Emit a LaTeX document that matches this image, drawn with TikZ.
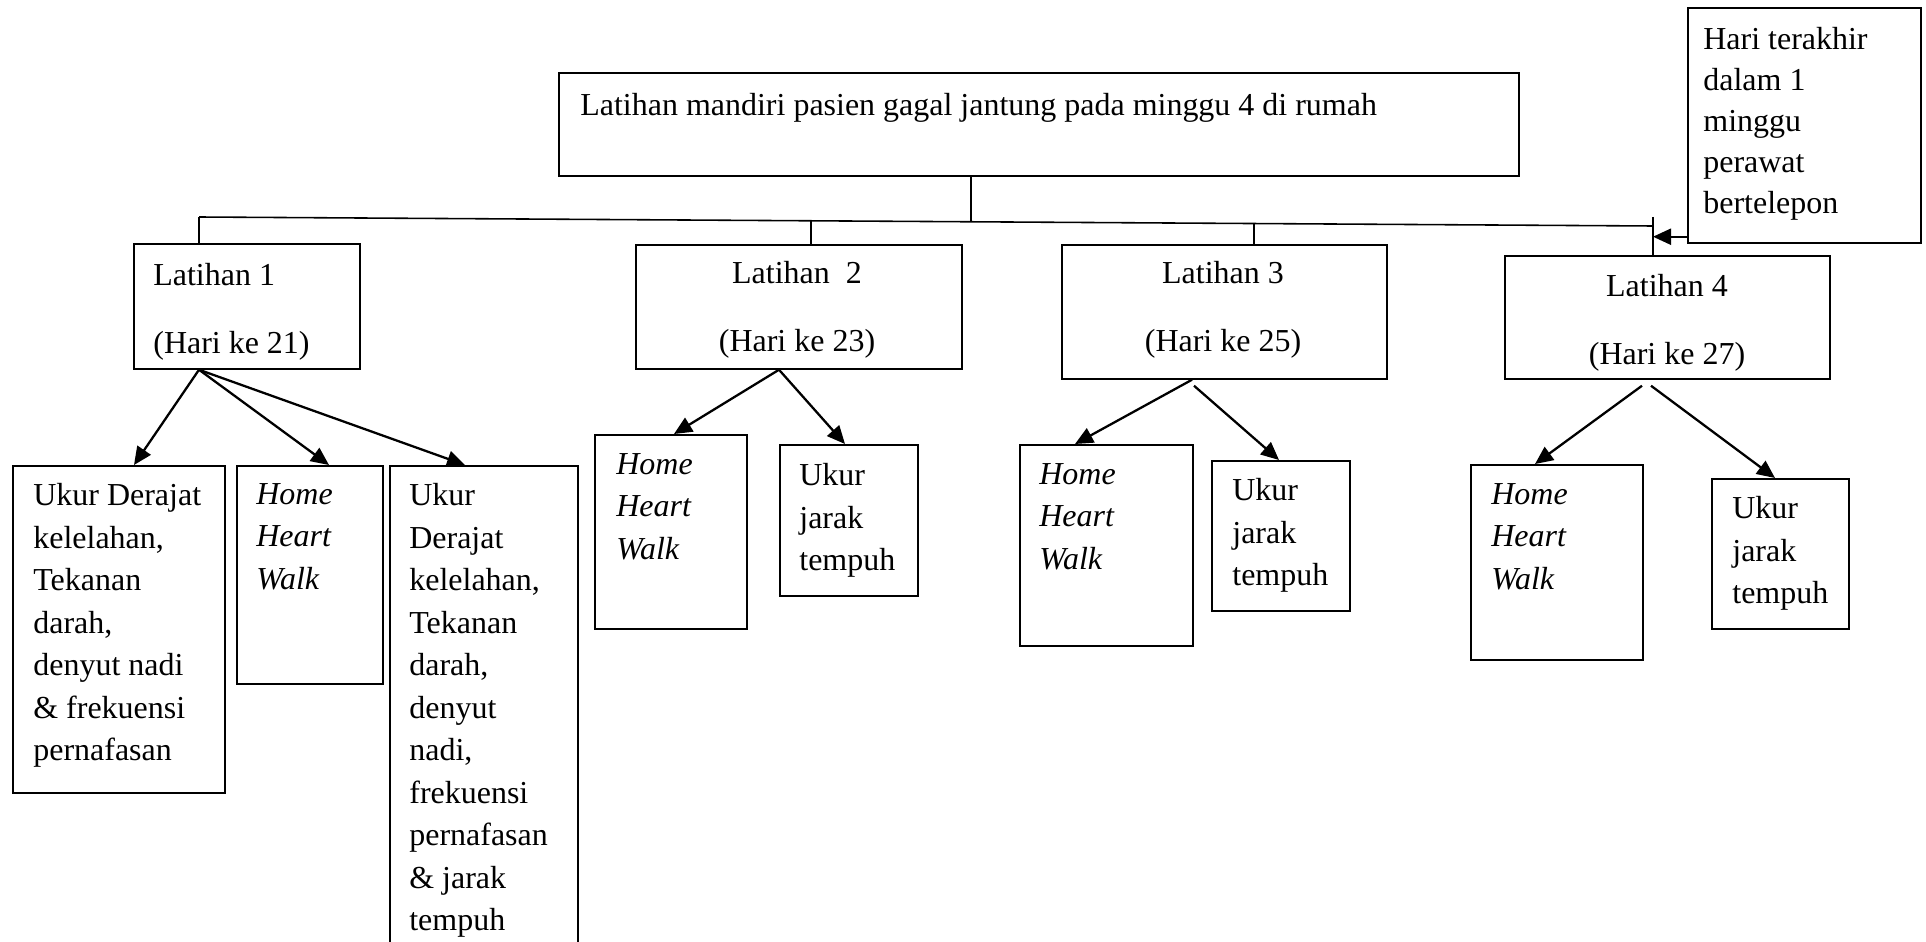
\documentclass[tikz,border=0pt]{standalone}
\usepackage{fontspec}
\setmainfont{Liberation Serif}
\usetikzlibrary{calc, arrows.meta}

\begin{document}
\begin{tikzpicture}[
  x=0.02cm, y=-0.02cm,
  every node/.style={font=\fontsize{18.2}{24.2}\selectfont},
  blk/.style={draw, line width=1pt, anchor=north west, inner sep=0pt},
  txt/.style={anchor=north west, align=left, inner sep=0pt},
  itx/.style={txt, font=\fontsize{18.2}{24.2}\selectfont\itshape},
  ctr/.style={anchor=north, align=center, inner sep=0pt},
  link/.style={line width=0.9pt},
  arr/.style={line width=1.3pt, -{Triangle[length=0.36cm, width=0.32cm]}}
]
\useasboundingbox (0,0) rectangle (1926,942);
\clip (0,0) rectangle (1926,942);

\node[blk, minimum width=19.2cm, minimum height=2.06cm] (top) at (558,72) {};
\node[blk, minimum width=4.66cm, minimum height=4.7cm] (note) at (1687,7) {};
\node[blk, minimum width=4.52cm, minimum height=2.5cm] (l1) at (133,243) {};
\node[blk, minimum width=6.52cm, minimum height=2.48cm] (l2) at (635,244) {};
\node[blk, minimum width=6.5cm, minimum height=2.68cm] (l3) at (1061,244) {};
\node[blk, minimum width=6.5cm, minimum height=2.46cm] (l4) at (1504,255) {};
\node[blk, minimum width=4.24cm, minimum height=6.54cm] (b1a) at (12,465) {};
\node[blk, minimum width=2.92cm, minimum height=4.36cm] (b1b) at (236,465) {};
\node[blk, minimum width=3.76cm, minimum height=9.9cm] (b1c) at (389,465) {};
\node[blk, minimum width=3.04cm, minimum height=3.88cm] (b2a) at (594,434) {};
\node[blk, minimum width=2.76cm, minimum height=3.02cm] (b2b) at (779,444) {};
\node[blk, minimum width=3.46cm, minimum height=4.02cm] (b3a) at (1019,444) {};
\node[blk, minimum width=2.76cm, minimum height=3cm] (b3b) at (1211,460) {};
\node[blk, minimum width=3.44cm, minimum height=3.9cm] (b4a) at (1470,464) {};
\node[blk, minimum width=2.74cm, minimum height=3cm] (b4b) at (1711,478) {};

\node[txt] (top-t) at (580,93) {Latihan mandiri pasien gagal jantung pada minggu 4 di rumah};
\node[txt, font=\fontsize{18.2}{23.4}\selectfont] (note-t) at (1703,27) {Hari terakhir\\dalam 1\\minggu\\perawat\\bertelepon};
\node[txt] (l1-t) at (153,263) {Latihan 1\\[14.5pt](Hari ke 21)};
\node[ctr] (l2-t) at (797,261) {Latihan\ \ 2\\[14.5pt](Hari ke 23)};
\node[ctr] (l3-t) at (1223,261) {Latihan 3\\[14.5pt](Hari ke 25)};
\node[ctr] (l4-t) at (1667,274) {Latihan 4\\[14.5pt](Hari ke 27)};
\node[txt] (b1a-t) at (33,483) {Ukur Derajat\\kelelahan,\\Tekanan\\darah,\\denyut nadi\\\& frekuensi\\pernafasan};
\node[itx] (b1b-t) at (256,483) {Home\\Heart\\Walk};
\node[txt] (b1c-t) at (409,483) {Ukur\\Derajat\\kelelahan,\\Tekanan\\darah,\\denyut\\nadi,\\frekuensi\\pernafasan\\\& jarak\\tempuh};
\node[itx] (b2a-t) at (616,453) {Home\\Heart\\Walk};
\node[txt] (b2b-t) at (799,463) {Ukur\\jarak\\tempuh};
\node[itx] (b3a-t) at (1039,463) {Home\\Heart\\Walk};
\node[txt] (b3b-t) at (1232,478) {Ukur\\jarak\\tempuh};
\node[itx] (b4a-t) at (1491,483) {Home\\Heart\\Walk};
\node[txt] (b4b-t) at (1732,496) {Ukur\\jarak\\tempuh};

\coordinate (busL) at (199,217);
\coordinate (busR) at (1653,226);
\coordinate (tap0) at (971,221.8);
\coordinate (tap2) at (811,220.8);
\coordinate (tap3) at (1254,223.5);
\coordinate (tap4) at (1653,217);
\draw[link] (top.south -| tap0) -- (tap0);
\draw[link] (busL) -- (busR);
\draw[link] (busL) -- (busL |- l1.north);
\draw[link] (tap2) -- (tap2 |- l2.north);
\draw[link] (tap3) -- (tap3 |- l3.north);
\draw[link] (tap4) -- (tap4 |- l4.north);
\coordinate (call) at ($(note.south west)+(0,-7)$);
\draw[arr] (call) -- (call -| tap4);

\draw[arr] (busL |- l1.south) -- ($(b1a.north west)+(122,0)$);
\draw[arr] (busL |- l1.south) -- ($(b1b.north west)+(93,0)$);
\draw[arr] (busL |- l1.south) -- ($(b1c.north west)+(76,0)$);
\draw[arr] ($(l2.south west)+(144,0)$) -- ($(b2a.north west)+(80,0)$);
\draw[arr] ($(l2.south west)+(144,0)$) -- ($(b2b.north west)+(66,0)$);
\draw[arr] ($(l3.south west)+(131,0)$) -- ($(b3a.north west)+(56,0)$);
\draw[arr] ($(l3.south west)+(133,6)$) -- ($(b3b.north west)+(68,0)$);
\draw[arr] ($(l4.south west)+(138,6)$) -- ($(b4a.north west)+(65,0)$);
\draw[arr] ($(l4.south west)+(147,6)$) -- ($(b4b.north west)+(64,0)$);
\end{tikzpicture}
\end{document}
